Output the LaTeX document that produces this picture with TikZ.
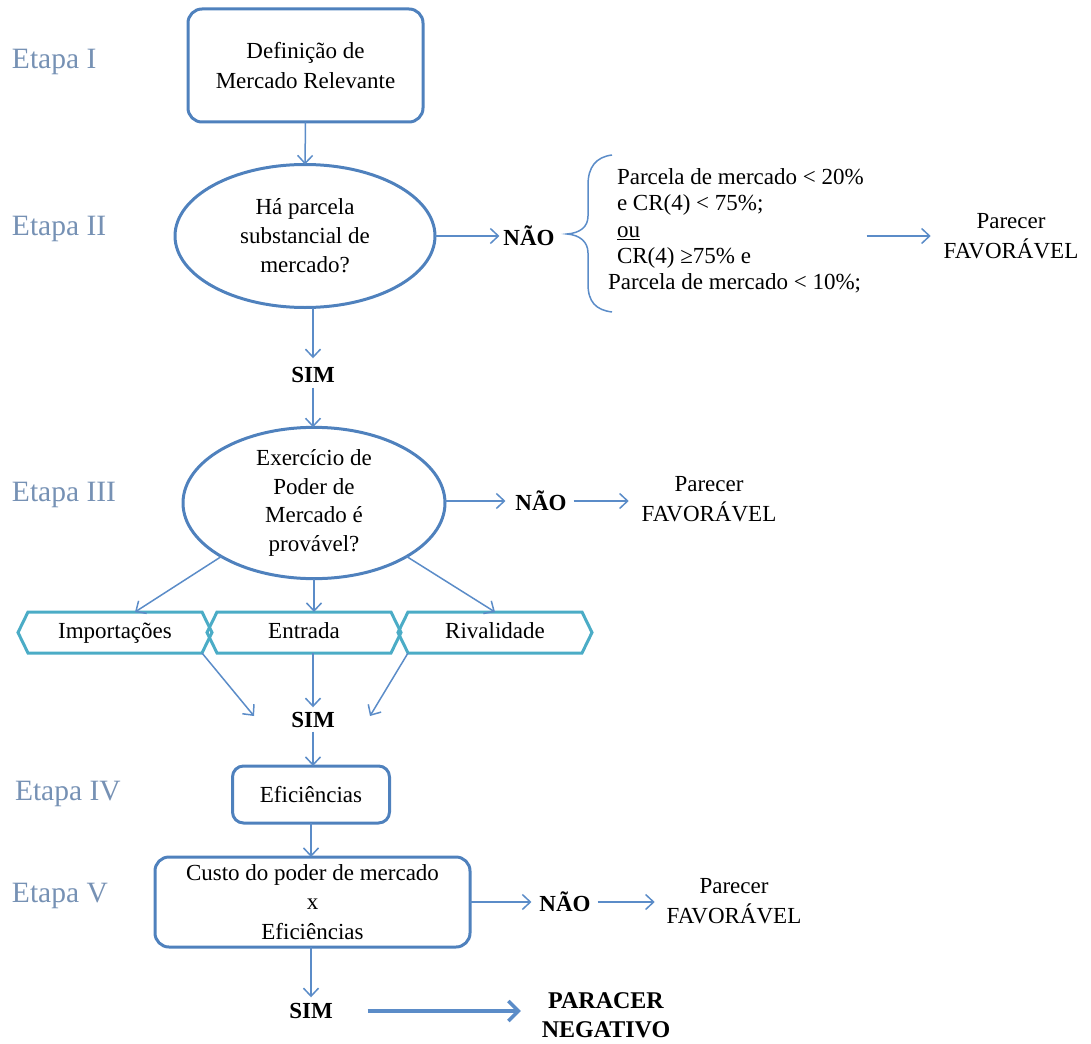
\documentclass[tikz,border=0pt]{standalone}
\usepackage{fontspec}
\setmainfont{Liberation Serif}
\usetikzlibrary{arrows.meta,calc,shapes.geometric}
\definecolor{boxblue}{HTML}{4F81BD}
\definecolor{arrblue}{HTML}{5B8CC8}
\definecolor{hexteal}{HTML}{4BACC6}
\definecolor{stagecol}{RGB}{118,145,180}

\begin{document}
\begin{tikzpicture}[x=1pt,y=-1pt,
  every node/.style={font=\fontsize{23}{28}\selectfont, inner sep=0pt, outer sep=0pt},
  stage/.style={font=\fontsize{29.5}{34}\selectfont, text=stagecol, anchor=west},
  rbox/.style={draw=boxblue, line width=3pt, rounded corners=14pt, align=center},
  ell/.style={draw=boxblue, line width=3pt, ellipse, align=center},
  ans/.style={font=\bfseries\fontsize{23}{28}\selectfont},
  verdict/.style={align=center, font=\fontsize{23}{30}\selectfont},
  hexlabel/.style={minimum width=174pt, minimum height=41pt, text height=16pt, text depth=5pt},
  hexline/.style={draw=hexteal, line width=3pt, line join=miter},
  arr/.style={draw=arrblue, line width=1.5pt, -{Straight Barb[length=8pt,width=15pt]}},
  bigarr/.style={draw=arrblue, line width=3.5pt, -{Straight Barb[length=10pt,width=20pt]}},
  bracepath/.style={draw=arrblue, line width=1.5pt}
]
\useasboundingbox (0,0) rectangle (1091,1043);

% stage labels
\node[stage] (st1) at (12,62)  {Etapa I};
\node[stage] (st2) at (12,229) {Etapa II};
\node[stage] (st3) at (12,495) {Etapa III};
\node[stage] (st4) at (15,794) {Etapa IV};
\node[stage] (st5) at (12,896) {Etapa V};

% stage I
\node[rbox, minimum width=235pt, minimum height=113pt,
      font=\fontsize{23}{30}\selectfont] (b1) at (305.5,65.5)
      {Definição de\\Mercado Relevante};

% stage II
\node[ell, minimum width=260pt, minimum height=143pt,
      font=\fontsize{23}{29}\selectfont] (e2) at (305,236)
      {Há parcela\\substancial de\\mercado?};
\node[ans] (no1) at (529,236) {NÃO};
\node[align=left, anchor=west, font=\fontsize{23}{26.3}\selectfont] (cond) at (617,231)
  {Parcela de mercado < 20\%\\
   e CR(4) < 75\%;\\
   \underline{ou}\\
   CR(4) ≥75\% e\\
   \hspace*{-9pt}Parcela de mercado < 10\%;};
\node[verdict] (fav1) at (1011,236) {Parecer\\FAVORÁVEL};
\node[ans] (s1) at (313,375) {SIM};

% left curly brace grouping the conditions
\draw[bracepath] (612,155) .. controls (596,157) and (588,167) .. (588,185)
  -- (588,216) .. controls (588,227) and (580,233) .. (567,234)
  .. controls (580,235) and (588,242) .. (588,253)
  -- (588,284) .. controls (588,302) and (596,310) .. (612,312);

% stage III
\node[ell, minimum width=262pt, minimum height=147pt,
      font=\fontsize{23}{28.7}\selectfont] (e3) at (314,503)
      {Exercício de\\Poder de\\Mercado é\\provável?};
\node[ans] (no2) at (541,501) {NÃO};
\node[verdict] (fav2) at (709,499) {Parecer\\FAVORÁVEL};

\node[hexlabel] (imp) at (115,632.5) {Importações};
\node[hexlabel] (ent) at (304,632.5) {Entrada};
\node[hexlabel] (riv) at (495,632.5) {Rivalidade};
\foreach \h in {imp,ent,riv}{
  \draw[hexline] (\h.north west) -- (\h.north east) -- ([xshift=10pt]\h.east)
    -- (\h.south east) -- (\h.south west) -- ([xshift=-10pt]\h.west) -- cycle;
}
\node[ans] (s2) at (313,720) {SIM};
\coordinate (simL) at (254,716);
\coordinate (simR) at (370,716);

% stage IV
\node[rbox, minimum width=157pt, minimum height=57pt, rounded corners=11pt] (b4) at (311,794.5) {Eficiências};

% stage V
\node[rbox, minimum width=315pt, minimum height=90pt,
      font=\fontsize{23}{29.5}\selectfont] (b5) at (312.5,902)
      {Custo do poder de mercado\\x\\Eficiências};
\node[ans] (no3) at (565,902) {NÃO};
\node[verdict] (fav3) at (734,901) {Parecer\\FAVORÁVEL};
\node[ans] (s3) at (311,1011) {SIM};
\node[align=center, font=\bfseries\fontsize{24}{29}\selectfont] (neg) at (606,1015) {PARACER\\NEGATIVO};

% connectors
\draw[arr] (b1.south) -- (e2.north);
\draw[arr, shorten >=4pt] (e2.east) -- (e2.east -| no1.west);
\draw[arr, shorten <=3pt, shorten >=13pt] (cond.east |- no1.east) -- (fav1.west |- no1.east);
\draw[arr, shorten >=9pt] (e2.south -| s1) -- (s1.north);
\draw[arr, shorten <=5pt] (s1.south) -- (s1.south |- e3.north);

\draw[arr, shorten >=10pt] (e3.east |- no2.west) -- (no2.west);
\draw[arr, shorten <=7pt, shorten >=13pt] (no2.east) -- (no2.east -| fav2.west);
\draw[arr] (e3.210) -- ($(imp.north)+(20,0)$);
\draw[arr] (e3.south) -- (e3.south |- ent.north);
\draw[arr] (e3.330) -- (riv.north);

\draw[arr] (imp.south east) -- (simL);
\draw[arr, shorten >=5pt] (ent.south -| s2) -- (s2.north);
\draw[arr] (riv.south west) -- (simR);
\draw[arr, shorten <=4pt] (s2.south) -- (s2.south |- b4.north);

\draw[arr] (b4.south) -- (b4.south |- b5.north);
\draw[arr, shorten >=8pt] (b5.east) -- (b5.east -| no3.west);
\draw[arr, shorten <=7pt, shorten >=12pt] (no3.east) -- (no3.east -| fav3.west);
\draw[arr, shorten >=6pt] (b5.south -| s3) -- (s3.north);
\draw[bigarr, shorten <=35pt, shorten >=21pt] (s3.east) -- (s3.east -| neg.west);
\end{tikzpicture}
\end{document}
